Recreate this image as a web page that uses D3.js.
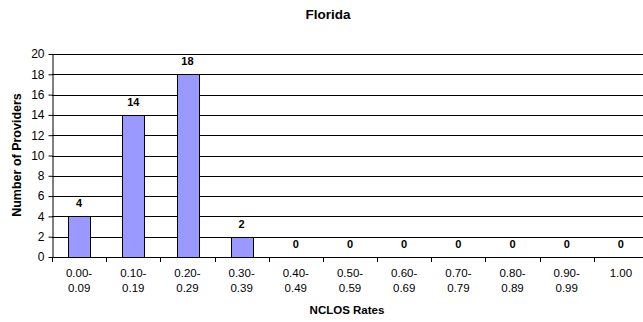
<!DOCTYPE html>
<html>
<head>
<meta charset="utf-8">
<script src="https://cdn.jsdelivr.net/npm/d3@7"></script>
<style>
  body { margin: 0; background: #fff; }
  svg { display: block; font-family: "Liberation Sans", Arial, sans-serif; }
</style>
</head>
<body>
<div id="chart"></div>
<script>
// data
var categories = ["0.00-\n0.09", "0.10-\n0.19", "0.20-\n0.29", "0.30-\n0.39", "0.40-\n0.49",
                  "0.50-\n0.59", "0.60-\n0.69", "0.70-\n0.79", "0.80-\n0.89", "0.90-\n0.99", "1.00"];
var providers = [4, 14, 18, 2, 0, 0, 0, 0, 0, 0, 0];
var yTicks = [0, 2, 4, 6, 8, 10, 12, 14, 16, 18, 20];

var width = 643, height = 322;
var margin = {top: 54, right: -5, bottom: 65, left: 52};

var svg = d3.select("#chart")
    .append("svg")
    .attr("width", width)
    .attr("height", height);

var x = d3.scaleBand()
    .domain(categories)
    .range([margin.left, width - margin.right])
    .paddingInner(0.6)
    .paddingOuter(0.3);

var y = d3.scaleLinear()
    .domain([0, 20])
    .range([height - margin.bottom, margin.top]);

// gridlines
svg.append("g")
    .selectAll("line")
    .data(yTicks.filter(function(d) { return d > 0; }))
    .enter()
    .append("line")
    .attr("x1", margin.left)
    .attr("x2", width - margin.right)
    .attr("y1", function(d) { return Math.round(y(d)) + 0.5; })
    .attr("y2", function(d) { return Math.round(y(d)) + 0.5; })
    .style("stroke", "#000")
    .style("stroke-width", 1);

// bars
svg.append("g")
    .selectAll("rect")
    .data(providers)
    .enter()
    .append("rect")
    .attr("x", function(d, i) { return Math.round(x(categories[i])) + 0.5; })
    .attr("y", function(d) { return Math.round(y(d)) + 0.5; })
    .attr("width", Math.round(x.bandwidth()))
    .attr("height", function(d) { return Math.round(y(0)) - Math.round(y(d)); })
    .attr("fill", "#9999ff")
    .attr("stroke", "#000")
    .attr("stroke-width", 1);

// value labels
svg.append("g")
    .selectAll("text")
    .data(providers)
    .enter()
    .append("text")
    .attr("x", function(d, i) { return x(categories[i]) + x.bandwidth() / 2; })
    .attr("y", function(d) { return y(d) - 9; })
    .attr("text-anchor", "middle")
    .style("font-size", "11px")
    .style("font-weight", "bold")
    .text(function(d) { return d; });

// y axis
var yAxis = svg.append("g")
    .attr("transform", "translate(" + (margin.left + 0.5) + ",0)")
    .call(d3.axisLeft(y).tickValues(yTicks).tickSize(4).tickPadding(4).tickSizeOuter(0));
yAxis.select(".domain").attr("stroke", "#000");
yAxis.selectAll("text").style("font-size", "12px").attr("font-family", null).attr("fill", "#000");

// x axis line with ticks between categories
var step = x.step();
var xStart = margin.left;
svg.append("line")
    .attr("x1", xStart)
    .attr("x2", width)
    .attr("y1", Math.round(y(0)) + 0.5)
    .attr("y2", Math.round(y(0)) + 0.5)
    .style("stroke", "#000");
svg.append("g")
    .selectAll("line")
    .data(d3.range(categories.length + 1))
    .enter()
    .append("line")
    .attr("x1", function(i) { return Math.round(xStart + i * step) + 0.5; })
    .attr("x2", function(i) { return Math.round(xStart + i * step) + 0.5; })
    .attr("y1", Math.round(y(0)))
    .attr("y2", Math.round(y(0)) + 5)
    .style("stroke", "#000");

// x tick labels
var xl = svg.append("g")
    .selectAll("text")
    .data(categories)
    .enter()
    .append("text")
    .attr("text-anchor", "middle")
    .attr("x", function(d) { return x(d) + x.bandwidth() / 2; })
    .attr("y", 277)
    .style("font-size", "11.5px");
xl.each(function(d) {
    var parts = d.split("\n");
    var t = d3.select(this);
    parts.forEach(function(p, k) {
        t.append("tspan")
            .attr("x", t.attr("x"))
            .attr("dy", k === 0 ? 0 : 15)
            .text(p);
    });
});

// title and axis titles
svg.append("text")
    .attr("x", 328)
    .attr("y", 19)
    .attr("text-anchor", "middle")
    .style("font-size", "13.5px")
    .style("font-weight", "bold")
    .text("Florida");

svg.append("text")
    .attr("x", 347)
    .attr("y", 314)
    .attr("text-anchor", "middle")
    .style("font-size", "11.5px")
    .style("font-weight", "bold")
    .text("NCLOS Rates");

svg.append("text")
    .attr("transform", "translate(21,155) rotate(-90)")
    .attr("text-anchor", "middle")
    .style("font-size", "12.5px")
    .style("font-weight", "bold")
    .text("Number of Providers");
</script>
</body>
</html>
